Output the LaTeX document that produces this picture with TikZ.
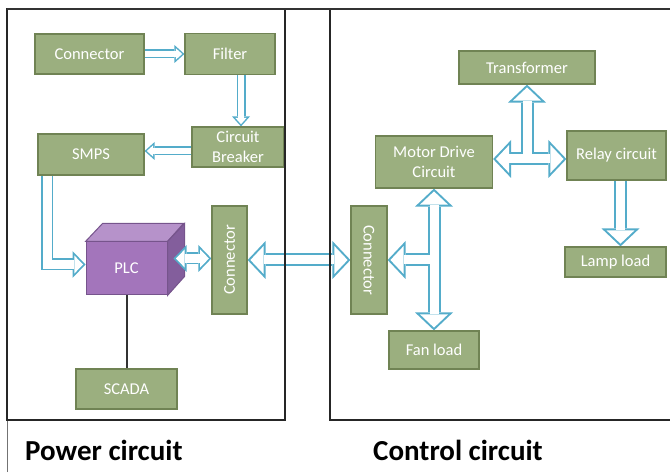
\documentclass[tikz,border=0pt]{standalone}
\usepackage{fontspec}
\setmainfont{Carlito}
\usepackage{tikz}
\usetikzlibrary{arrows.meta,calc,backgrounds}

\definecolor{blockfill}{RGB}{155,175,127}
\definecolor{blockline}{RGB}{112,131,84}
\definecolor{plcfront}{RGB}{163,117,187}
\definecolor{plctop}{RGB}{182,146,202}
\definecolor{plcshade}{RGB}{131,94,156}
\definecolor{plcline}{RGB}{118,84,140}
\definecolor{flowblue}{RGB}{84,172,202}

\tikzstyle{block} = [rectangle, inner sep=0pt, draw=blockline, line width=1.2pt, fill=blockfill, text=white, align=center, font=\fontsize{16.5}{20}\selectfont]
\tikzstyle{heading} = [anchor=base west, inner sep=0pt, font=\fontsize{29}{34}\selectfont\bfseries]
\tikzstyle{boxline} = [line width=1.6pt, black!85]
% hollow arrows: every path is stroked wide in blue first, then narrow in white
\tikzstyle{pipe outer} = [
  pipe s/.style={flowblue, line width=9pt, >={Triangle[length=10pt,width=18pt,line width=0pt]}},
  pipe m/.style={flowblue, line width=12pt, >={Triangle[length=13pt,width=27pt,line width=0pt]}},
  pipe l/.style={flowblue, line width=13pt, >={Triangle[length=18pt,width=38pt,line width=0pt]}}]
\tikzstyle{pipe inner} = [
  pipe s/.style={white, line width=6pt, shorten >=2.2pt, shorten <=2.2pt, >={Triangle[length=6.3pt,width=11.3pt,line width=0pt]}},
  pipe m/.style={white, line width=8.4pt, shorten >=2.5pt, shorten <=2.5pt, >={Triangle[length=8.7pt,width=18.1pt,line width=0pt]}},
  pipe l/.style={white, line width=9pt, shorten >=2.8pt, shorten <=2.8pt, >={Triangle[length=13.2pt,width=27.9pt,line width=0pt]}}]

\newcommand{\flowpaths}{%
  \draw [pipe s,->] (conA.center) -- (filter);
  \draw [pipe s,->] (fb) -- (fb |- breaker.north);
  \draw [pipe s,->] (bs) -- (bs -| smps.east);
  \draw [pipe m,->] (sp) |- ([yshift=4pt]plc.west);
  \draw [pipe m,<->] (plcport) -- (plcport -| conB.west);
  \draw [pipe l,<->] (conB) -- (conC);
  \draw [pipe l,<->] (motor) -- (fan);
  \draw [pipe l,->] (mf) -- (conC);
  \draw [pipe l,<->] (mr) -- (mr -| relay.west);
  \draw [pipe l,->] (mt) -- (transformer);
  \draw [pipe l,->] (rl) -- (rl |- lamp.north);
}

\begin{document}
\begin{tikzpicture}[x=1pt,y=1pt]
\useasboundingbox (0,0) rectangle (670,472);

% power side
\node (conA) [block, minimum width=109pt, minimum height=40pt] at (89.5,418) {Connector};
\node (filter) [block, minimum width=90pt, minimum height=41pt] at (230,418) {Filter};
\node (breaker) [block, minimum width=92pt, minimum height=40pt] at (238,325) {Circuit\\Breaker};
\node (smps) [block, minimum width=106pt, minimum height=41pt] at (91,317.5) {SMPS};
\node (plc) [block, draw=plcline, fill=plcfront, line width=1pt, minimum width=81pt, minimum height=53pt] at (126.5,203.5) {PLC};
\node (conB) [block, minimum width=35pt, minimum height=108pt] at (229.5,212) {\rotatebox{90}{Connector}};
\node (scada) [block, minimum width=101pt, minimum height=40pt] at (126.5,83) {SCADA};

% control side
\node (transformer) [block, minimum width=136pt, minimum height=33pt] at (527,404.5) {Transformer};
\node (motor) [block, minimum width=117pt, minimum height=52pt] at (434,310) {Motor Drive\\Circuit};
\node (relay) [block, minimum width=99pt, minimum height=49pt] at (616.5,316.5) {Relay circuit};
\node (conC) [block, minimum width=36pt, minimum height=108pt] at (369,212) {\rotatebox{-90}{Connector}};
\node (fan) [block, minimum width=90pt, minimum height=38pt] at (434,122) {Fan load};
\node (lamp) [block, minimum width=101pt, minimum height=30pt] at (615.5,210) {Lamp load};

\coordinate (fb) at ([xshift=11pt]filter.center);
\coordinate (bs) at ([yshift=-4pt]breaker.center);
\coordinate (sp) at ([xshift=10pt,yshift=13pt]smps.south west);
\coordinate (plcport) at ($(plc.east)+(6,10)$);
\coordinate (mf) at (motor.south |- conC.east);
\coordinate (mr) at (motor.east |- 0,313);
\coordinate (mt) at (transformer.south |- mr);
\coordinate (rl) at ([xshift=4pt]relay.center);

\begin{scope}[on background layer]
  % top and side of the PLC box
  \filldraw [fill=plctop, draw=plcline, line width=1pt] (plc.north west) -- ++(17,18) -- ++(81,0) -- (plc.north east) -- cycle;
  \filldraw [fill=plcshade, draw=plcline, line width=1pt] (plc.north east) -- ++(17,18) -- ++(0,-53) -- (plc.south east) -- cycle;
  \begin{scope}[pipe outer] \flowpaths \end{scope}
  \begin{scope}[pipe inner] \flowpaths \end{scope}
\end{scope}

\draw [line width=2pt, black!80] (plc.south) -- (scada.north);

% frames
\draw [line width=1pt, black!55] (7,0) -- (7,463);
\draw [boxline] (7,463) rectangle (285,52);
\draw [boxline] (672,463) -- (330,463) -- (330,52) -- (672,52);
\draw [line width=2.4pt, black!80] (7,463) -- (672,463);

\node (powertitle) [heading] at (25,12) {Power circuit};
\node (controltitle) [heading] at (373,12) {Control circuit};
\end{tikzpicture}
\end{document}
